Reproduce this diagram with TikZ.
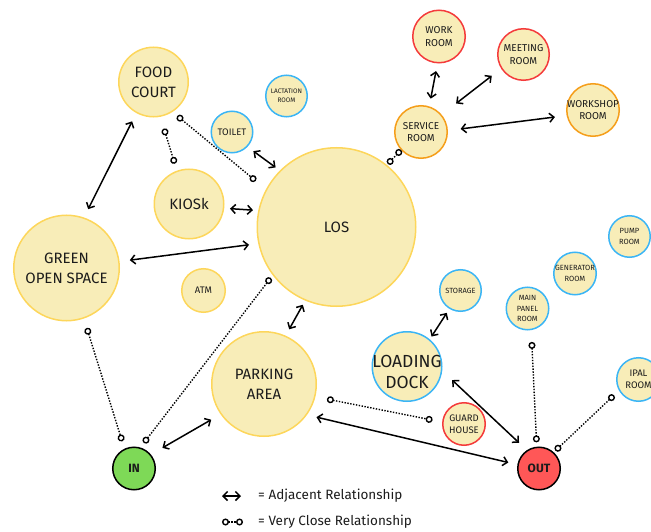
\documentclass[tikz,border=0pt]{standalone}
\usepackage{fontspec}
\setmainfont{Fira Sans}
\usetikzlibrary{arrows.meta}

\definecolor{spotfill}{HTML}{F8EDB8}
\definecolor{ringyel}{HTML}{FDD65B}
\definecolor{ringblu}{HTML}{3BB5F5}
\definecolor{ringred}{HTML}{F43B3B}
\definecolor{ringora}{HTML}{F59E1A}
\definecolor{ingreen}{HTML}{7ED957}
\definecolor{outred}{HTML}{FF5757}
\definecolor{ink}{HTML}{1C1C1C}

\newcommand\fnBig{\fontsize{15}{20}\selectfont}
\newcommand\fnDock{\fontsize{17.5}{21}\selectfont}
\newcommand\fnMid{\fontsize{10}{12.5}\selectfont}
\newcommand\fnSmall{\fontsize{9.5}{12}\selectfont}
\newcommand\fnTiny{\fontsize{7.5}{10.5}\selectfont}
\newcommand\fnMini{\fontsize{6.5}{9}\selectfont}
\newcommand\fnGate{\fontsize{12}{14}\selectfont\bfseries}
\newcommand\fnKey{\fontsize{13.5}{15}\selectfont}

\tikzset{
  spot/.style={circle, fill=spotfill, draw=#1, line width=1.5pt, inner sep=0pt, outer sep=0pt},
  lbl/.style 2 args={label={[align=center, text=ink, font=#1]center:#2}},
  adj/.style={line width=1.5pt, >={Straight Barb[length=4.5pt,width=9pt]}, <->},
  vclose/.style={line width=1.4pt, dash pattern=on 1.4pt off 1.5pt,
    {Circle[open,length=7pt]}-{Circle[open,length=7pt]}},
}

\begin{document}
\begin{tikzpicture}[x=1pt, y=-1pt]
    \useasboundingbox (0,0) rectangle (651,532);

    % ruang utama
    \node[spot=ringyel, minimum size=158.5pt, lbl={\fnBig}{LOS}] (los) at (336.5,227) {};
    \node[spot=ringyel, minimum size=69.5pt, lbl={\fnBig}{FOOD\\COURT}] (food) at (153.5,82) {};
    \node[spot=ringyel, minimum size=69.5pt, lbl={\fnBig}{KIOSk}] (kiosk) at (189,204) {};
    \node[spot=ringyel, minimum size=105.5pt, lbl={\fnBig}{GREEN\\OPEN SPACE}] (green) at (66.5,268) {};
    \node[spot=ringyel, minimum size=43.5pt, lbl={\fnSmall}{ATM}] (atm) at (203.5,290.5) {};
    \node[spot=ringyel, minimum size=104.5pt, lbl={\fnBig}{PARKING\\AREA}] (park) at (264,384) {};

    % ruang penunjang
    \node[spot=ringblu, minimum size=41.5pt, lbl={\fnSmall}{TOILET}] (toilet) at (232,132) {};
    \node[spot=ringblu, minimum size=41.5pt, lbl={\fnMini}{LACTATION\\ROOM}] (lact) at (286.5,96) {};
    \node[spot=ringblu, minimum size=41.5pt, lbl={\fnTiny}{STORAGE}] (stor) at (460.5,290.5) {};
    \node[spot=ringblu, minimum size=42.5pt, lbl={\fnTiny}{MAIN\\PANEL\\ROOM}] (panel) at (527.5,308.5) {};
    \node[spot=ringblu, minimum size=42.5pt, lbl={\fnTiny}{GENERATOR\\ROOM}] (gen) at (575,273.5) {};
    \node[spot=ringblu, minimum size=41.5pt, lbl={\fnTiny}{PUMP\\ROOM}] (pump) at (629.5,236.5) {};
    \node[spot=ringblu, minimum size=43.5pt, lbl={\fnSmall}{IPAL\\ROOM}] (ipal) at (638.5,379.5) {};
    \node[spot=ringblu, minimum size=69.5pt,
      label={[align=center, text=ink, font=\fnDock, yshift=-5pt]center:LOADING\\DOCK}] (dock) at (407,366.5) {};

    % ruang pengelola
    \node[spot=ringred, minimum size=52.5pt, lbl={\fnMid}{WORK\\ROOM}] (work) at (439,36.5) {};
    \node[spot=ringred, minimum size=51.5pt, lbl={\fnMid}{MEETING\\ROOM}] (meet) at (523.5,54.5) {};
    \node[spot=ringred, minimum size=42.5pt, lbl={\fnSmall}{GUARD\\HOUSE}] (guard) at (464,424) {};
    \node[spot=ringora, minimum size=52.5pt, lbl={\fnMid}{SERVICE\\ROOM}] (serv) at (421,132) {};
    \node[spot=ringora, minimum size=52.5pt, lbl={\fnMid}{WORKSHOP\\ROOM}] (shop) at (593,110) {};

    % pintu
    \node[spot=black, fill=ingreen, minimum size=42.5pt, lbl={\fnGate}{IN}] (in) at (134,468.5) {};
    \node[spot=black, fill=outred, minimum size=42.5pt, lbl={\fnGate}{OUT}] (out) at (539,468.5) {};

    % hubungan dekat
    \draw[adj, shorten <=10pt, shorten >=10pt] (food.-119) -- (green.71);
    \draw[adj, shorten <=8pt, shorten >=6pt] (toilet.-44) -- (los.135);
    \draw[adj, shorten <=6.5pt, shorten >=6pt] (kiosk.-7) -- (los.168);
    \draw[adj, shorten <=11pt, shorten >=10pt] (green.7) -- (los.192);
    \draw[adj, shorten <=5.5pt, shorten >=8pt] (los.-113) -- (park.66);
    \draw[adj, shorten <=14pt, shorten >=11.5pt] (in.40) -- (park.-145);
    \draw[adj, shorten <=10.5pt, shorten >=10pt] (park.-36) -- (out.170);
    \draw[adj, shorten <=14.5pt, shorten >=11.5pt] (dock.-6) -- (out.123);
    \draw[adj, shorten <=5.5pt, shorten >=4pt] (stor.-121) -- (dock.50);
    \draw[adj, shorten <=8.5pt, shorten >=8.5pt] (work.-93) -- (serv.72);
    \draw[adj, shorten <=12.5pt, shorten >=19pt] (meet.-148) -- (serv.40);
    \draw[adj, shorten <=13.5pt, shorten >=12.5pt] (serv.3) -- (shop.-168);

    % hubungan sangat dekat
    \draw[vclose, shorten <=13pt, shorten >=8pt] (food.-79) -- (kiosk.110);
    \draw[vclose, shorten <=7pt, shorten >=14pt] (food.-58) -- (los.152);
    \draw[vclose, shorten <=2pt, shorten >=0.5pt] (los.51) -- (serv.-138);
    \draw[vclose, shorten <=10.5pt, shorten >=8.5pt] (green.-71) -- (in.116);
    \draw[vclose, shorten <=6.5pt, shorten >=4pt] (in.74) -- (los.-143);
    \draw[vclose, shorten <=12.5pt, shorten >=10.5pt] (park.-14) -- (guard.175);
    \draw[vclose, shorten <=12.5pt, shorten >=5pt] (panel.-80) -- (out.96);
    \draw[vclose, shorten <=3pt, shorten >=7.5pt] (out.48) -- (ipal.-151);

    % keterangan
    \coordinate (adjA) at (222,496);
    \coordinate (adjB) at (241,496);
    \coordinate (vcA) at (222,522);
    \coordinate (vcB) at (243,522);
    \draw[adj] (adjA) -- (adjB);
    \draw[vclose] (vcA) -- (vcB);
    \node[anchor=west, text=ink, font=\fnKey, inner sep=0pt] (keyadj) at (258,496) {= Adjacent Relationship};
    \node[anchor=west, text=ink, font=\fnKey, inner sep=0pt] (keyvc) at (258,522) {= Very Close Relationship};
\end{tikzpicture}
\end{document}
